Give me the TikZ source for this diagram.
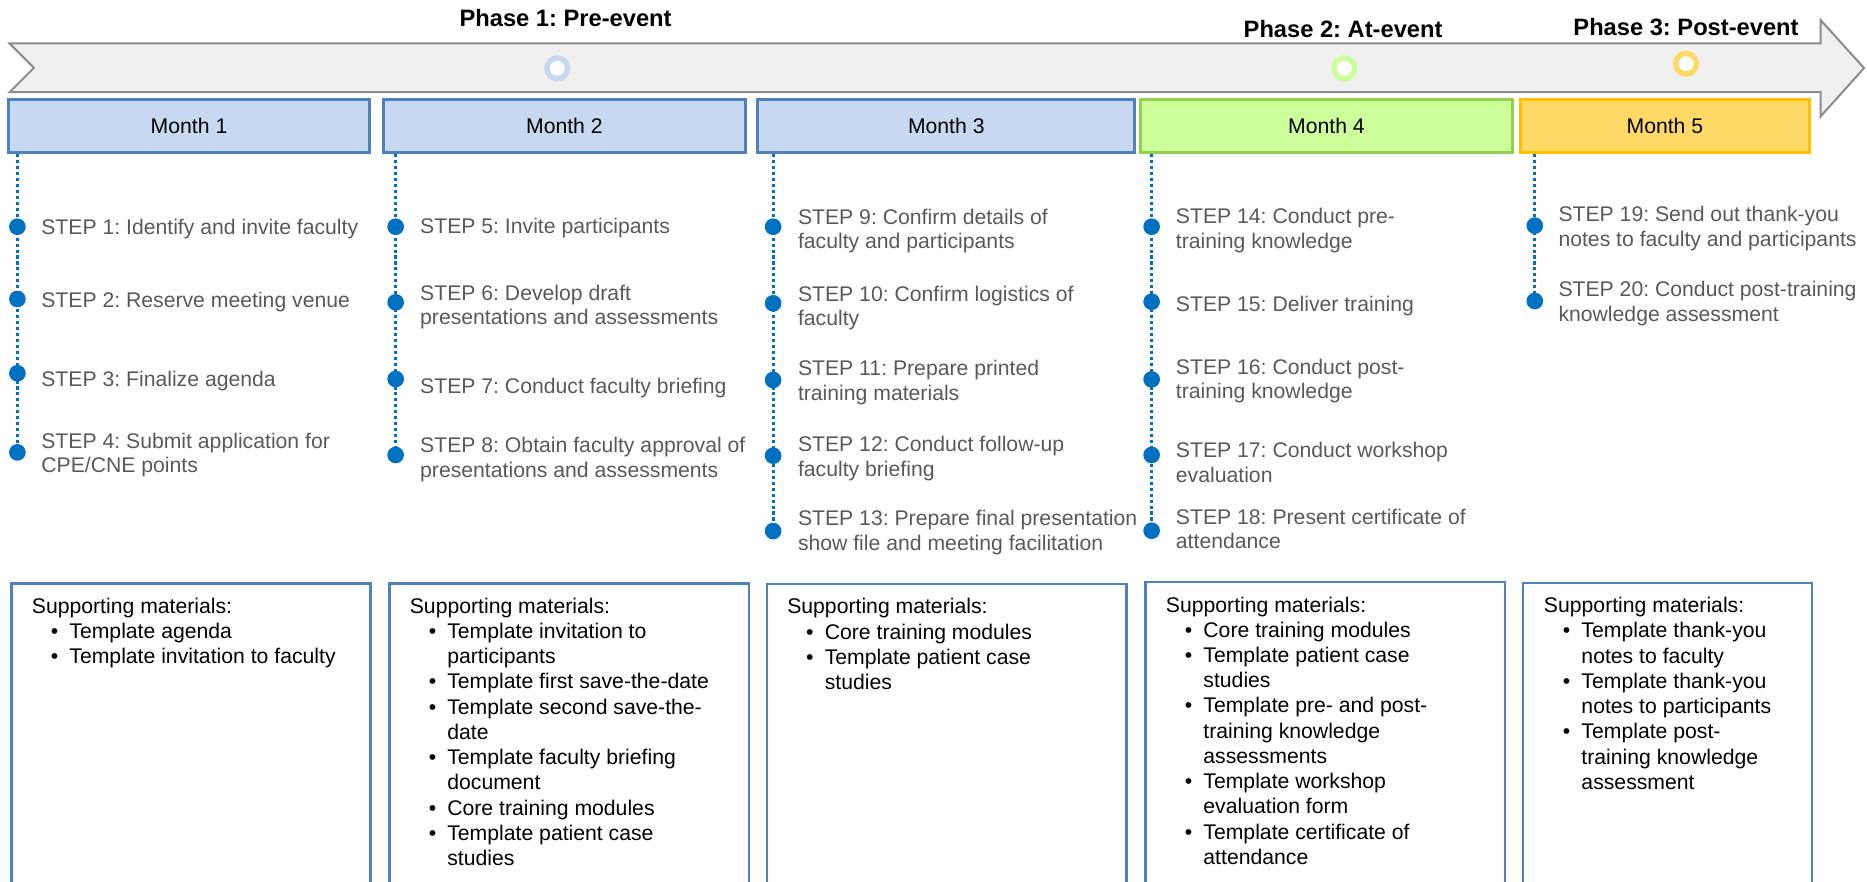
\documentclass[tikz,border=0pt]{standalone}
\usepackage{fontspec}
\setmainfont{Liberation Sans}
\frenchspacing

\definecolor{arrowfill}{HTML}{F0F0F0}
\definecolor{arrowline}{HTML}{8C8C8C}
\definecolor{bluefill}{HTML}{C6D9F1}
\definecolor{blueline}{HTML}{4F81BD}
\definecolor{greenfill}{HTML}{CCFF99}
\definecolor{greenline}{HTML}{92D050}
\definecolor{yellowfill}{HTML}{FFD966}
\definecolor{yellowline}{HTML}{FFC000}
\definecolor{dotblue}{HTML}{0070C0}
\definecolor{stepgray}{HTML}{595959}

% multi-line text block whose baseline is the first line
\newcommand{\steplines}[1]{\begin{tabular}[t]{@{}l@{}}#1\end{tabular}}
\newcommand{\bul}{\makebox[31.5pt][l]{\hspace*{15.9pt}\textbullet}}
\newcommand{\ind}{\hspace*{31.5pt}}

\begin{document}
\begin{tikzpicture}[x=1pt,y=-1pt,
  phase/.style={inner sep=0pt, font=\fontsize{19.9}{22}\selectfont\bfseries},
  ring/.style={circle, minimum size=17.4pt, inner sep=0pt, line width=4.5pt, fill=white},
  month/.style={draw, line width=2.5pt, minimum height=44.9pt, inner sep=0pt,
                font=\fontsize{17.8}{20.6}\selectfont},
  bluemonth/.style={month, fill=bluefill, draw=blueline},
  steptext/.style={anchor=base west, inner sep=0pt, text=stepgray,
                   font=\fontsize{17.8}{20.6}\selectfont},
  stepdot/.style={circle, fill=dotblue, minimum size=14pt, inner sep=0pt},
  dotline/.style={draw=dotblue, line width=2.6pt, dash pattern=on 2.6pt off 2.4pt},
  matbox/.style={draw=blueline, line width=2pt, anchor=north west, inner sep=0pt},
  mattext/.style={anchor=base west, inner sep=0pt, text=black,
                  font=\fontsize{17.8}{21.2}\selectfont},
]
\useasboundingbox (0,0) rectangle (1568,740);
\clip (0,0) rectangle (1568,740);

% timeline arrow
\draw[fill=arrowfill, draw=arrowline, line width=1.7pt, line join=miter]
  (8,36.4) -- (1529,36.4) -- (1529,16.8) -- (1565.5,57.2) -- (1529,97.8)
  -- (1529,77.4) -- (8,77.4) -- (28.5,57) -- cycle;

% phase labels and markers
\node[phase] (p1) at (475,15) {Phase 1: Pre-event};
\node[phase] (p2) at (1128,24) {Phase 2: At-event};
\node[phase] (p3) at (1416,22.4) {Phase 3: Post-event};
\node[ring, draw=bluefill] (r1) at (468,57.4) {};
\node[ring, draw=greenfill] (r2) at (1129,57.4) {};
\node[ring, draw=yellowfill] (r3) at (1416,53.5) {};

% month headers
\node[bluemonth, minimum width=302.5pt] (m1) at (158.75,105.85) {Month 1};
\node[bluemonth, minimum width=304pt] (m2) at (474,105.85) {Month 2};
\node[bluemonth, minimum width=316.9pt] (m3) at (794.75,105.85) {Month 3};
\node[month, fill=greenfill, draw=greenline, minimum width=312pt] (m4) at (1114,105.85) {Month 4};
\node[month, fill=yellowfill, draw=yellowline, minimum width=242.5pt] (m5) at (1398.25,105.85) {Month 5};

% step markers
\node[stepdot] (d1) at (14.6,190.4) {};
\node[stepdot] (d2) at (14.6,251.1) {};
\node[stepdot] (d3) at (14.6,313.5) {};
\node[stepdot] (d4) at (14.6,379.9) {};
\node[stepdot] (d5) at (332.3,190.4) {};
\node[stepdot] (d6) at (332.3,253.9) {};
\node[stepdot] (d7) at (332.3,318.3) {};
\node[stepdot] (d8) at (332.3,382.1) {};
\node[stepdot] (d9) at (649.3,190.4) {};
\node[stepdot] (d10) at (649.3,254.7) {};
\node[stepdot] (d11) at (649.3,319.1) {};
\node[stepdot] (d12) at (649.3,382.7) {};
\node[stepdot] (d13) at (649.3,446) {};
\node[stepdot] (d14) at (967.2,190.4) {};
\node[stepdot] (d15) at (967.2,253.4) {};
\node[stepdot] (d16) at (967.2,318.6) {};
\node[stepdot] (d17) at (967.2,382.1) {};
\node[stepdot] (d18) at (967.2,445.7) {};
\node[stepdot] (d19) at (1289,189.5) {};
\node[stepdot] (d20) at (1289,252.8) {};

% dotted month lines
\draw[dotline] (d1 |- m1.south) -- (d4.center);
\draw[dotline] (d5 |- m2.south) -- (d8.center);
\draw[dotline] (d9 |- m3.south) -- (d13.center);
\draw[dotline] (d14 |- m4.south) -- (d18.center);
\draw[dotline] (d19 |- m5.south) -- (d20.center);

% step texts
\node[steptext] (s1) at (34.5,197.3) {\steplines{STEP 1: Identify and invite faculty}};
\node[steptext] (s2) at (34.5,258.4) {\steplines{STEP 2: Reserve meeting venue}};
\node[steptext] (s3) at (34.5,324.7) {\steplines{STEP 3: Finalize agenda}};
\node[steptext] (s4) at (34.5,376.5) {\steplines{STEP 4: Submit application for\\CPE/CNE points}};

\node[steptext] (s5) at (352.7,195.9) {\steplines{STEP 5: Invite participants}};
\node[steptext] (s6) at (352.7,252.2) {\steplines{STEP 6: Develop draft\\presentations and assessments}};
\node[steptext] (s7) at (352.7,330.6) {\steplines{STEP 7: Conduct faculty briefing}};
\node[steptext] (s8) at (352.7,380.1) {\steplines{STEP 8: Obtain faculty approval of\\presentations and assessments}};

\node[steptext] (s9) at (670,188.3) {\steplines{STEP 9: Confirm details of\\faculty and participants}};
\node[steptext] (s10) at (670,252.8) {\steplines{STEP 10: Confirm logistics of\\faculty}};
\node[steptext] (s11) at (670,315.7) {\steplines{STEP 11: Prepare printed\\training materials}};
\node[steptext] (s12) at (670,379.3) {\steplines{STEP 12: Conduct follow-up\\faculty briefing}};
\node[steptext] (s13) at (670,441.7) {\steplines{STEP 13: Prepare final presentation\\show file and meeting facilitation}};

\node[steptext] (s14) at (987.4,187.8) {\steplines{STEP 14: Conduct pre-\\training knowledge}};
\node[steptext] (s15) at (987.4,261.2) {\steplines{STEP 15: Deliver training}};
\node[steptext] (s16) at (987.4,314.3) {\steplines{STEP 16: Conduct post-\\training knowledge}};
\node[steptext] (s17) at (987.4,384.3) {\steplines{STEP 17: Conduct workshop\\evaluation}};
\node[steptext] (s18) at (987.4,440.3) {\steplines{STEP 18: Present certificate of\\attendance}};

\node[steptext] (s19) at (1308.7,186.1) {\steplines{STEP 19: Send out thank-you\\notes to faculty and participants}};
\node[steptext] (s20) at (1308.7,249.1) {\steplines{STEP 20: Conduct post-training\\knowledge assessment}};

% supporting material panels (running past the lower edge)
\node[matbox, minimum width=301.4pt, minimum height=280pt] (b1) at (8.6,489) {};
\node[matbox, minimum width=302pt, minimum height=280pt] (b2) at (326,489) {};
\node[matbox, minimum width=302pt, minimum height=280pt] (b3) at (643,489.6) {};
\node[matbox, minimum width=302pt, minimum height=280pt] (b4) at (961,488) {};
\node[matbox, minimum width=243pt, minimum height=280pt] (b5) at (1278,488.5) {};

\node[mattext] (t1) at (26.6,515) {\steplines{Supporting materials:\\
  \bul Template agenda\\
  \bul Template invitation to faculty}};
\node[mattext] (t2) at (344,515) {\steplines{Supporting materials:\\
  \bul Template invitation to\\
  \ind participants\\
  \bul Template first save-the-date\\
  \bul Template second save-the-\\
  \ind date\\
  \bul Template faculty briefing\\
  \ind document\\
  \bul Core training modules\\
  \bul Template patient case\\
  \ind studies}};
\node[mattext] (t3) at (661,515.5) {\steplines{Supporting materials:\\
  \bul Core training modules\\
  \bul Template patient case\\
  \ind studies}};
\node[mattext] (t4) at (979,514) {\steplines{Supporting materials:\\
  \bul Core training modules\\
  \bul Template patient case\\
  \ind studies\\
  \bul Template pre- and post-\\
  \ind training knowledge\\
  \ind assessments\\
  \bul Template workshop\\
  \ind evaluation form\\
  \bul Template certificate of\\
  \ind attendance}};
\node[mattext] (t5) at (1296.5,514.5) {\steplines{Supporting materials:\\
  \bul Template thank-you\\
  \ind notes to faculty\\
  \bul Template thank-you\\
  \ind notes to participants\\
  \bul Template post-\\
  \ind training knowledge\\
  \ind assessment}};
\end{tikzpicture}
\end{document}
